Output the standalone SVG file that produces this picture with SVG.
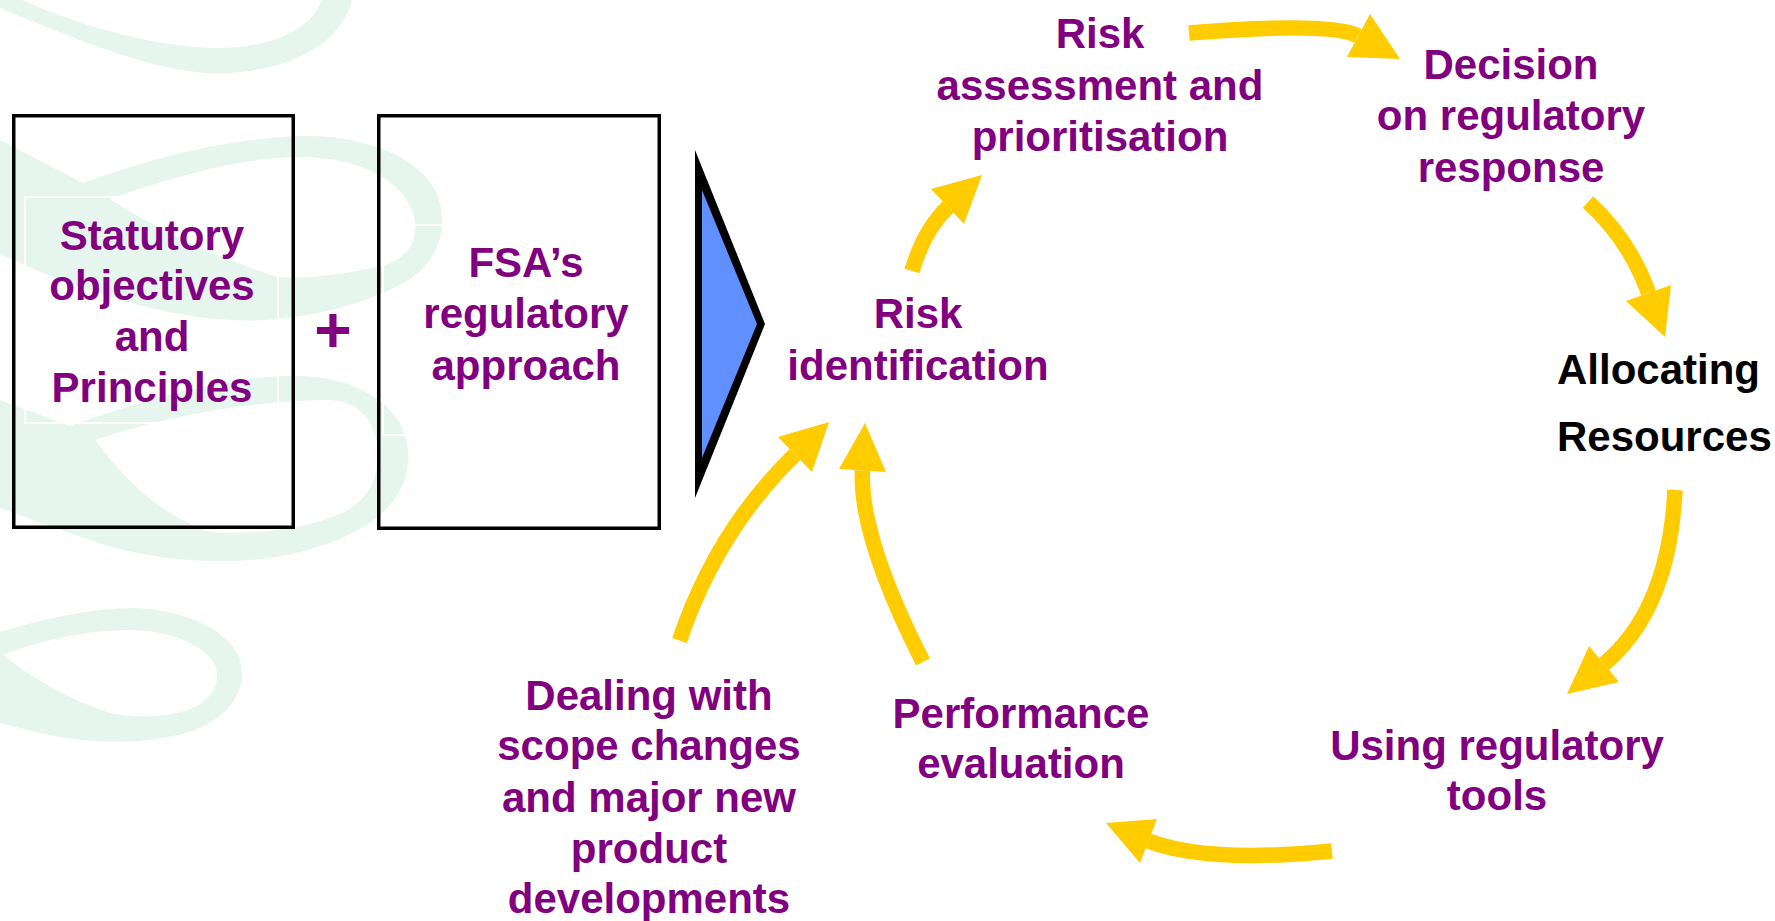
<svg xmlns="http://www.w3.org/2000/svg" width="1775" height="921" viewBox="0 0 1775 921">
  <style>
    .bg { fill: #ffffff; }
    .swirl { fill: #e6f5ed; fill-rule: evenodd; }
    .box { fill: none; stroke: #000000; stroke-width: 3.5; }
    .frame { fill: none; stroke: #ffffff; stroke-width: 2; }
    .lbl { font-family: "Liberation Sans", Arial, sans-serif; font-weight: bold; font-size: 42px; fill: #800080; text-anchor: middle; }
    .lbl-black { font-family: "Liberation Sans", Arial, sans-serif; font-weight: bold; font-size: 42px; fill: #000000; }
    .plus { font-family: "Liberation Sans", Arial, sans-serif; font-weight: bold; font-size: 64px; fill: #800080; text-anchor: middle; }
    .shaft { fill: none; stroke: #ffcc00; stroke-width: 15.5; stroke-linecap: butt; }
    .head { fill: #ffcc00; stroke: none; }
  </style>

  <rect class="bg" x="0" y="0" width="1775" height="921"/>

  <!-- faint ribbon watermark on the left -->
  <g id="watermark">
    <path class="swirl" d="M0,8 C90,45 170,78 232,73 C300,67 342,40 352,0 L322,0 C312,28 275,47 222,48 C155,49 70,22 22,0 L0,0 Z"/>
    <path class="swirl" d="M0,140 L83,183 C115,172 200,140 300,136 C365,134 420,158 436,192 C450,225 440,262 405,282 C370,302 320,316 265,320 C200,324 110,305 0,254 Z
                           M110,199 C170,178 240,157 300,157 C365,157 410,185 415,222 C418,248 400,262 380,266 C340,276 300,279 277,277 C220,258 160,232 110,199 Z"/>
    <path class="swirl" d="M0,400 L70,426 C130,405 210,380 280,376 C335,373 378,390 398,420 C415,448 410,482 390,505 C365,533 320,550 270,558 C210,566 140,558 90,540 C55,528 25,517 0,508 Z
                           M95,440 C160,418 250,400 330,400 C362,401 377,425 378,452 C379,485 362,506 335,516 C300,530 250,535 210,532 C160,515 125,480 95,440 Z"/>
    <path class="swirl" d="M0,632 C40,620 90,608 135,608 C180,609 225,628 238,655 C250,682 235,712 200,728 C165,742 110,746 60,737 C35,732 15,727 0,723 Z
                           M3,655 C40,640 90,630 130,630 C170,630 205,645 215,665 C222,685 210,703 185,711 C160,718 130,718 110,713 C70,700 35,680 3,655 Z"/>
  </g>

  <!-- left input boxes -->
  <g id="node-statutory">
    <rect class="frame" x="25" y="197" width="253" height="226"/>
    <rect class="box" x="13.75" y="115.75" width="279.5" height="411.5"/>
    <text class="lbl" x="152" y="250">Statutory</text>
    <text class="lbl" x="152" y="300">objectives</text>
    <text class="lbl" x="152" y="351">and</text>
    <text class="lbl" x="152" y="402">Principles</text>
  </g>

  <g id="node-plus">
    <text class="plus" x="333" y="352">+</text>
  </g>

  <g id="node-fsa-approach">
    <rect class="frame" x="383" y="225" width="272" height="210"/>
    <rect class="box" x="378.75" y="115.75" width="280.5" height="412.5"/>
    <text class="lbl" x="526" y="277">FSA’s</text>
    <text class="lbl" x="526" y="328">regulatory</text>
    <text class="lbl" x="526" y="380">approach</text>
  </g>

  <g id="node-pointer">
    <polygon points="695,150 765,324 695,498" fill="#000000"/>
    <polygon points="702,190 757,324 702,458" fill="#6090ff"/>
  </g>

  <!-- cycle stages -->
  <g id="node-risk-identification">
    <text class="lbl" x="918" y="328">Risk</text>
    <text class="lbl" x="918" y="380">identification</text>
  </g>

  <g id="node-risk-assessment">
    <text class="lbl" x="1100" y="48">Risk</text>
    <text class="lbl" x="1100" y="100">assessment and</text>
    <text class="lbl" x="1100" y="151">prioritisation</text>
  </g>

  <g id="node-decision">
    <text class="lbl" x="1511" y="79">Decision</text>
    <text class="lbl" x="1511" y="130">on regulatory</text>
    <text class="lbl" x="1511" y="182">response</text>
  </g>

  <g id="node-allocating">
    <text class="lbl-black" x="1557" y="384">Allocating</text>
    <text class="lbl-black" x="1557" y="451">Resources</text>
  </g>

  <g id="node-tools">
    <text class="lbl" x="1497" y="760">Using regulatory</text>
    <text class="lbl" x="1497" y="810">tools</text>
  </g>

  <g id="node-performance">
    <text class="lbl" x="1021" y="728">Performance</text>
    <text class="lbl" x="1021" y="778">evaluation</text>
  </g>

  <g id="node-scope-changes">
    <text class="lbl" x="649" y="710">Dealing with</text>
    <text class="lbl" x="649" y="760">scope changes</text>
    <text class="lbl" x="649" y="812">and major new</text>
    <text class="lbl" x="649" y="863">product</text>
    <text class="lbl" x="649" y="913">developments</text>
  </g>

  <!-- curved yellow arrows of the cycle -->
  <g id="connectors">
    <path class="shaft" d="M912,271 Q924,230 948,207"/>
    <polygon class="head" points="931,189 982,175 964,224"/>

    <path class="shaft" d="M1189,33 Q1331,21.6 1358,36"/>
    <polygon class="head" points="1370,14 1400,59 1347,57"/>

    <path class="shaft" d="M1588,202 Q1629.4,239.5 1648.5,293"/>
    <polygon class="head" points="1626,301 1665,337 1671,285"/>

    <path class="shaft" d="M1675,490 Q1669,610 1604,664"/>
    <polygon class="head" points="1589,646 1567,694 1619,682"/>

    <path class="shaft" d="M1332,851 Q1207,863.5 1148.5,841"/>
    <polygon class="head" points="1157,819 1106,823 1140,863"/>

    <path class="shaft" d="M923,662 Q859,536 862.5,470.5"/>
    <polygon class="head" points="839,469 865,423 886,472"/>

    <path class="shaft" d="M679.5,640.5 Q716.5,530.7 795,454.5"/>
    <polygon class="head" points="778,437 829,422 812,472"/>
  </g>
</svg>
